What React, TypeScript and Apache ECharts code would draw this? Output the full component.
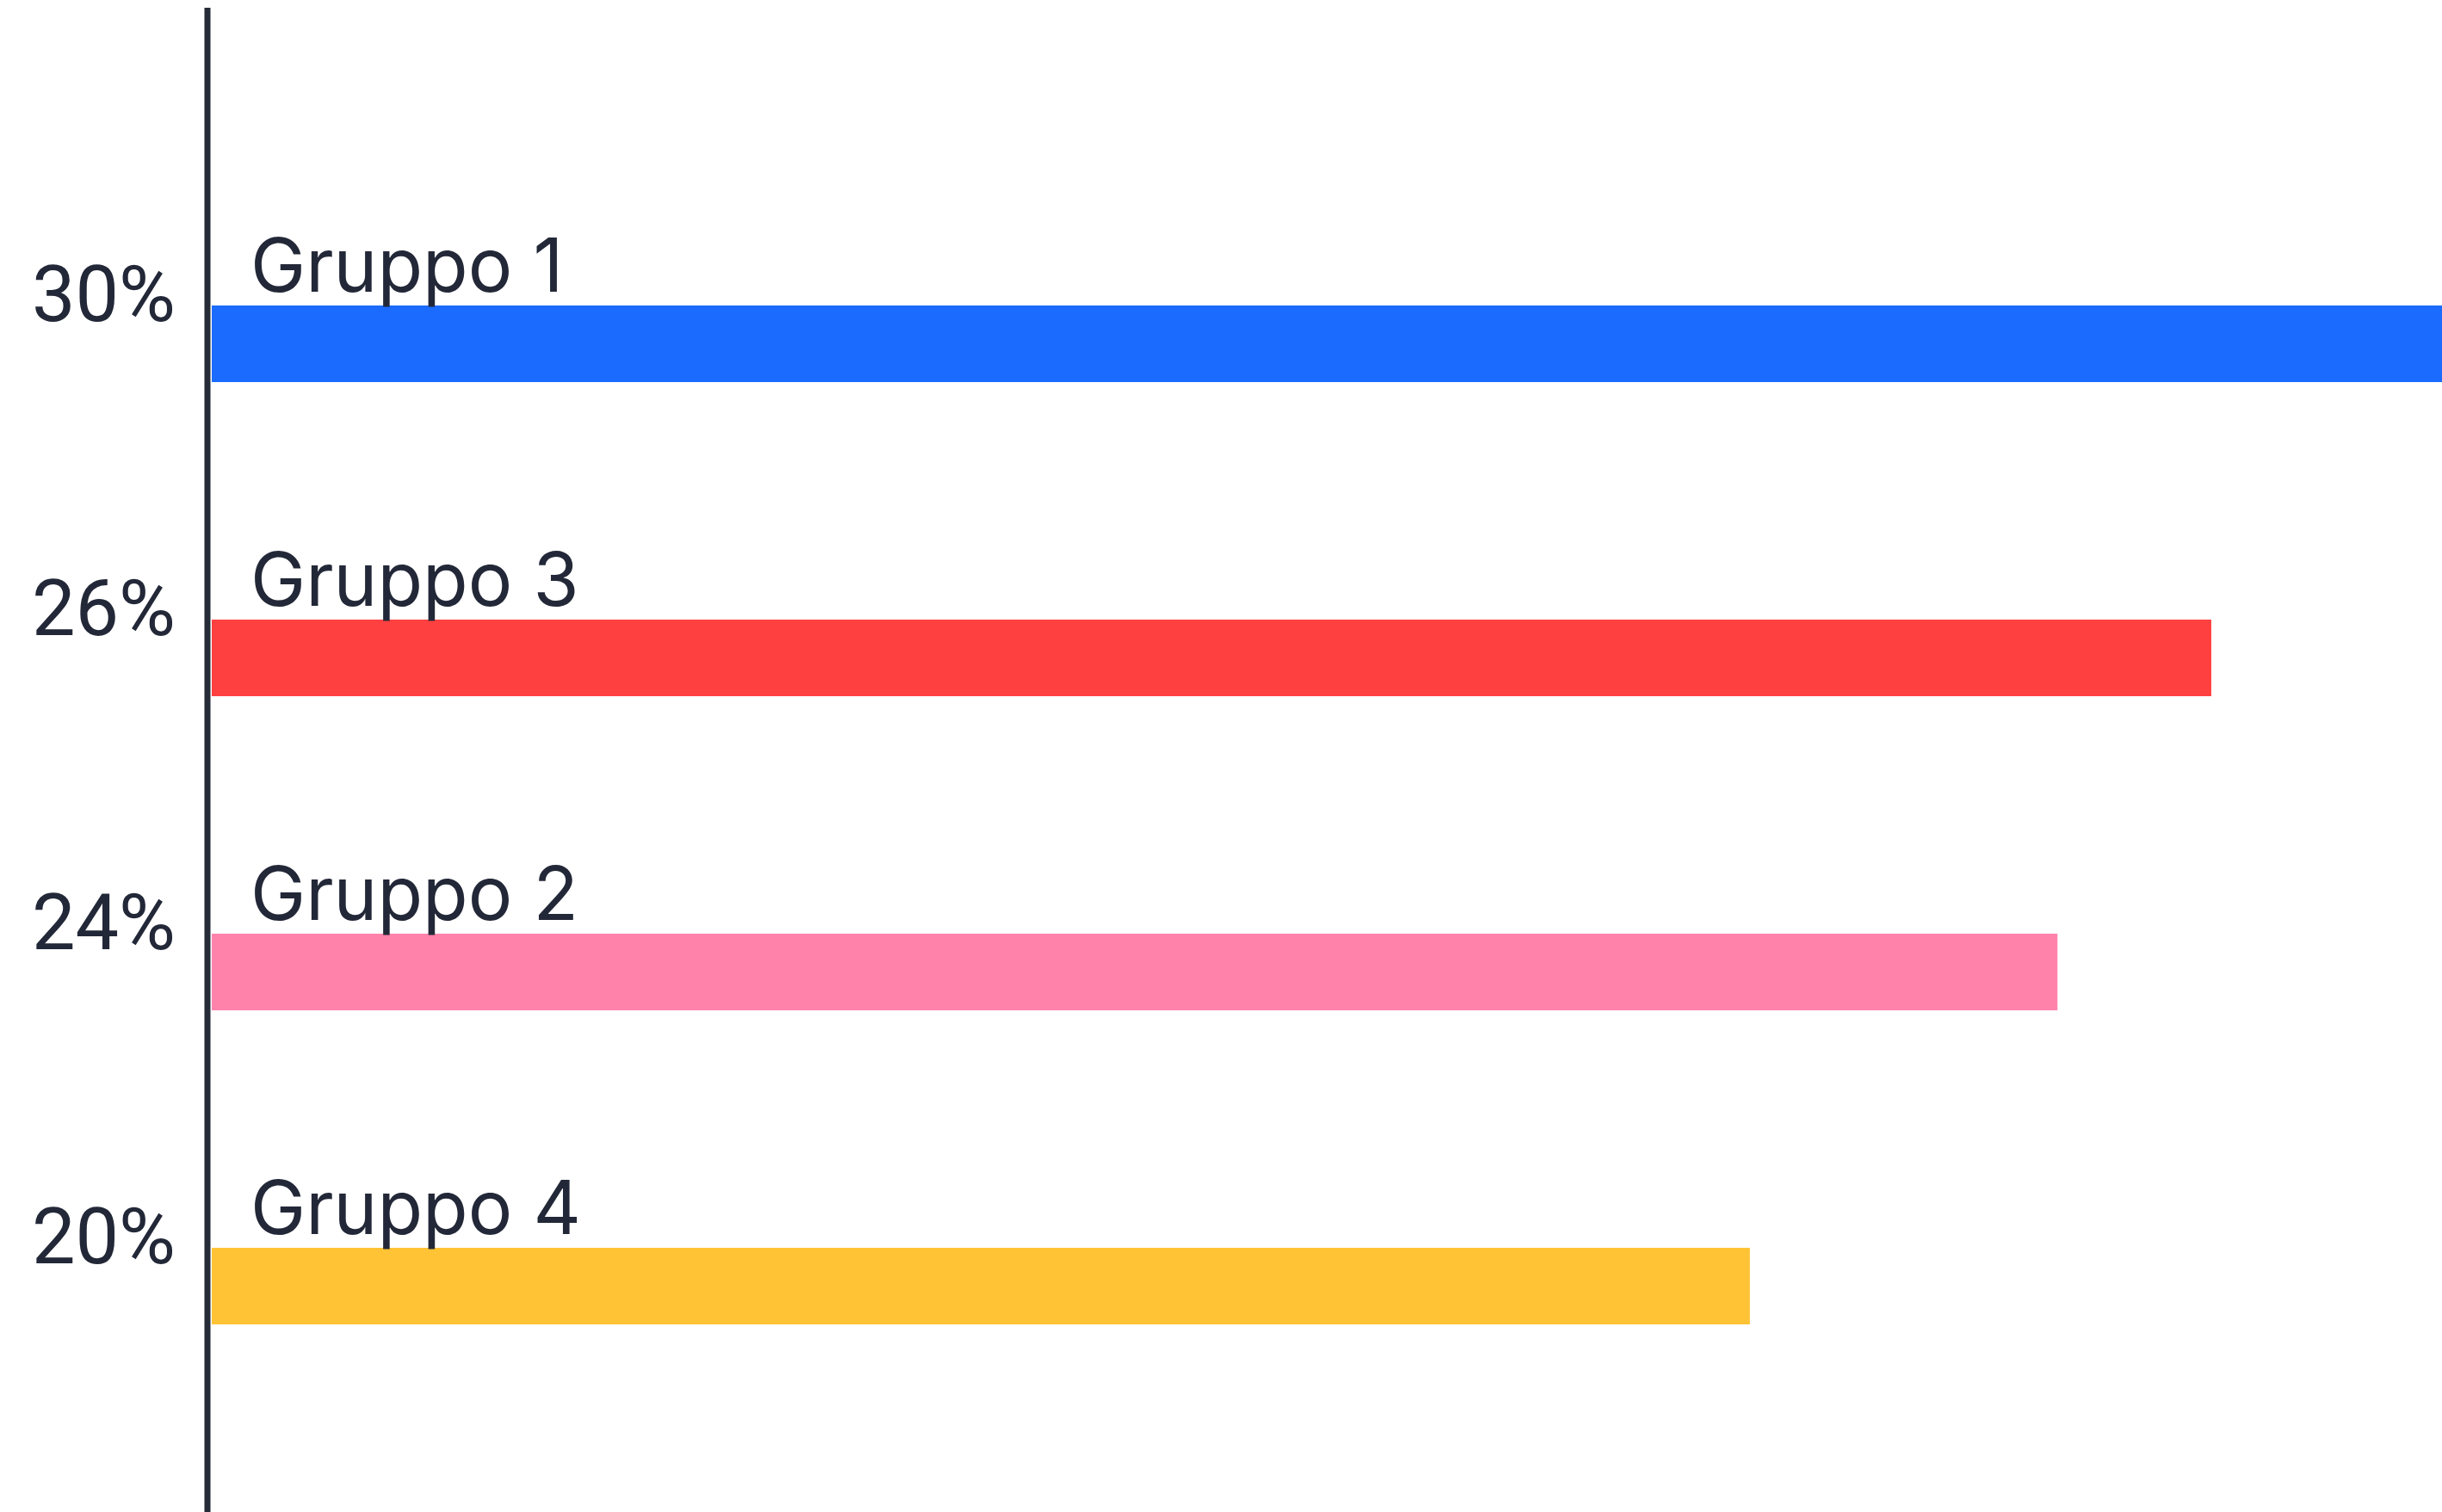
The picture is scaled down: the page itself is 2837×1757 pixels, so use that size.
import React, { useEffect, useRef } from "react";
import * as echarts from "echarts";

const groups = ["Gruppo 1", "Gruppo 3", "Gruppo 2", "Gruppo 4"];
const values = [30, 26, 24, 20];
const colors = ["#1B6BFF", "#FF4040", "#FF82AB", "#FFC335"];

const TEXT = "#232838";

export default function App() {
  const ref = useRef<HTMLDivElement>(null);
  useEffect(() => {
    if (!ref.current) return;
    const chart = echarts.init(ref.current, undefined, { renderer: "svg" });
    chart.setOption({
      animation: false,
      backgroundColor: "#ffffff",
      grid: { left: 246, right: 0, top: 217, bottom: 80, containLabel: false },
      xAxis: {
        type: "value",
        min: 0,
        max: 29,
        show: false,
      },
      yAxis: {
        type: "category",
        inverse: true,
        data: groups,
        axisLine: { show: false },
        axisTick: { show: false },
        splitLine: { show: false },
        axisLabel: {
          formatter: (_v: string, i: number) => values[i] + "%",
          fontFamily: "Roboto",
          fontSize: 90,
          fontWeight: 400,
          color: TEXT,
          margin: 42,
          verticalAlign: "bottom",
          lineHeight: 114,
        },
      },
      graphic: [
        {
          type: "line",
          shape: { x1: 241, y1: 9, x2: 241, y2: 1757 },
          style: { stroke: "#262b38", lineWidth: 7 },
          z: 10,
        },
      ],
      series: [
        {
          type: "bar",
          clip: true,
          barWidth: 89,
          data: values.map((v, i) => ({
            value: v,
            itemStyle: { color: colors[i] },
          })),
          label: {
            show: true,
            position: [45, -4],
            align: "left",
            verticalAlign: "bottom",
            formatter: (p: any) => groups[p.dataIndex],
            fontFamily: "Inter",
            fontSize: 86,
            color: TEXT,
          },
        },
      ],
    });
    return () => chart.dispose();
  }, []);
  return (
    <div
      ref={ref}
      style={{ position: "absolute", left: 0, top: 0, width: 2837, height: 1757 }}
    />
  );
}
